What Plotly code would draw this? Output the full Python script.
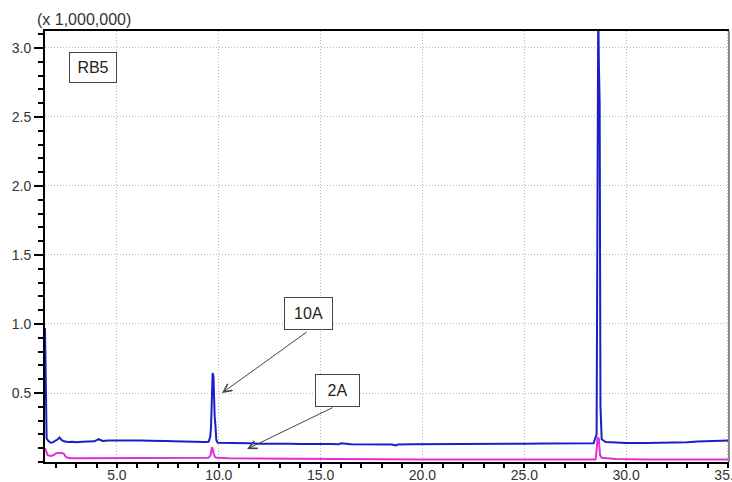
import plotly.graph_objects as go

# ---- data ----
blue_x = [1.47, 1.50, 1.55, 1.62, 1.75, 1.85, 2.0, 2.1, 2.18, 2.28, 2.4, 2.6, 2.8, 3.0, 3.3, 3.6,
          3.9, 4.1, 4.3, 4.6, 5.0, 5.4, 5.8, 6.2, 6.6, 7.0, 7.4, 7.8, 8.2, 8.6, 9.0, 9.3, 9.5,
          9.58, 9.62, 9.66, 9.70, 9.74, 9.77, 9.80, 9.84, 9.88, 9.95, 10.2, 10.6, 11.0, 11.5,
          12.0, 12.5, 13.0, 13.5, 14.0, 14.5, 15.0, 15.5, 15.9, 16.0, 16.5, 17.0, 17.5, 18.0,
          18.5, 18.7, 18.8, 19.5, 20.0, 21.0, 22.0, 23.0, 24.0, 25.0, 26.0, 27.0, 28.0, 28.4,
          28.55, 28.6, 28.63, 28.66, 28.70, 28.74, 28.8, 29.0, 29.5, 30.0, 31.0, 32.0, 33.0,
          33.5, 34.0, 34.5, 35.05]
blue_y = [0.97, 0.55, 0.17, 0.155, 0.14, 0.142, 0.155, 0.165, 0.178, 0.16, 0.15, 0.145, 0.147,
          0.143, 0.146, 0.148, 0.15, 0.165, 0.152, 0.155, 0.156, 0.157, 0.155, 0.156, 0.154,
          0.155, 0.152, 0.15, 0.148, 0.146, 0.144, 0.145, 0.147, 0.18, 0.25, 0.6, 0.645, 0.62,
          0.35, 0.33, 0.26, 0.16, 0.14, 0.14, 0.138, 0.136, 0.135, 0.133, 0.134, 0.132, 0.133,
          0.131, 0.132, 0.129, 0.13, 0.128, 0.136, 0.128, 0.127, 0.128, 0.127, 0.127, 0.12,
          0.127, 0.128, 0.129, 0.129, 0.13, 0.131, 0.132, 0.133, 0.134, 0.135, 0.135, 0.135,
          0.2, 3.3, 3.3, 2.9, 2.6, 0.4, 0.165, 0.145, 0.14, 0.138, 0.138, 0.139, 0.143, 0.148,
          0.152, 0.155, 0.155]

magenta_x = [1.47, 1.52, 1.6, 1.75, 1.9, 2.0, 2.1, 2.3, 2.4, 2.5, 2.7, 3.0, 4.0, 5.0, 6.0, 7.0,
             8.0, 9.0, 9.5, 9.6, 9.66, 9.70, 9.75, 9.82, 9.9, 10.5, 12.0, 14.0, 16.0, 18.0,
             20.0, 22.0, 24.0, 26.0, 28.0, 28.5, 28.56, 28.6, 28.66, 28.72, 28.8, 29.5, 31.0,
             33.0, 35.05]
magenta_y = [0.1, 0.075, 0.05, 0.043, 0.05, 0.062, 0.066, 0.066, 0.06, 0.035, 0.028, 0.027,
             0.027, 0.028, 0.028, 0.027, 0.028, 0.03, 0.031, 0.05, 0.105, 0.1, 0.06, 0.035,
             0.03, 0.027, 0.025, 0.024, 0.021, 0.02, 0.019, 0.019, 0.018, 0.018, 0.018, 0.018,
             0.1, 0.18, 0.17, 0.05, 0.03, 0.022, 0.019, 0.018, 0.019]

x_tick_vals = [5, 10, 15, 20, 25, 30, 35]
x_tick_text = ["5.0", "10.0", "15.0", "20.0", "25.0", "30.0", "35.0"]
y_tick_vals = [0.5, 1.0, 1.5, 2.0, 2.5, 3.0]
y_tick_text = ["0.5", "1.0", "1.5", "2.0", "2.5", "3.0"]

BLUE = "#1a1ec8"
MAGENTA = "#e030d8"

fig = go.Figure()
fig.add_trace(go.Scatter(x=blue_x, y=blue_y, mode="lines",
                         line=dict(color=BLUE, width=2), showlegend=False))
fig.add_trace(go.Scatter(x=magenta_x, y=magenta_y, mode="lines",
                         line=dict(color=MAGENTA, width=2), showlegend=False))

tickfont = dict(family="Liberation Sans, Arial, sans-serif", size=14, color="#333333")
GRID = dict(showgrid=True, gridcolor="#b8b8b8", gridwidth=1, griddash="1px,2px")

fig.update_layout(
    width=732, height=482,
    margin=dict(l=45, r=3, t=31, b=20, autoexpand=False),
    plot_bgcolor="white", paper_bgcolor="white",
    xaxis=dict(range=[1.47, 35.05], tickmode="array", tickvals=x_tick_vals,
               ticktext=x_tick_text, ticks="outside", ticklen=4, tickwidth=1.5,
               tickcolor="black", showline=True, linecolor="black", linewidth=2,
               mirror=True, zeroline=False, tickfont=tickfont, automargin=False,
               ticklabeloverflow="allow", ticklabelstandoff=-5, **GRID,
               minor=dict(tickmode="linear", tick0=0, dtick=1, ticks="outside",
                          ticklen=4, tickwidth=1.5, tickcolor="black", showgrid=False)),
    yaxis=dict(range=[0.0, 3.123], tickmode="array", tickvals=y_tick_vals,
               ticktext=y_tick_text, ticks="outside", ticklen=9, tickwidth=1.5,
               tickcolor="black", showline=True, linecolor="black", linewidth=2,
               zeroline=False, tickfont=tickfont, automargin=False, **GRID,
               minor=dict(tickmode="linear", tick0=0, dtick=0.1, ticks="outside",
                          ticklen=5, tickwidth=1.5, tickcolor="black", showgrid=False)),
    shapes=[dict(type="line", xref="paper", yref="paper", x0=1, x1=1, y0=0, y1=1,
                 line=dict(color="#888888", width=2))],
)

annfont = dict(family="Liberation Sans, Arial, sans-serif", size=16, color="#222222")
box = dict(bordercolor="#444444", borderwidth=1, bgcolor="white", showarrow=False,
           font=annfont, xref="x", yref="y")

fig.add_annotation(x=3.83, y=2.859, text="RB5", width=44, height=27, borderpad=1, **box)
fig.add_annotation(x=14.41, y=1.076, text="10A", width=45, height=29, borderpad=1, **box)
fig.add_annotation(x=15.83, y=0.518, text="2A", width=41, height=29, borderpad=1, **box)

arrow = dict(text="", showarrow=True, arrowhead=5, arrowsize=1.6, arrowwidth=1,
             arrowcolor="#444444", xref="x", yref="y", axref="x", ayref="y")
fig.add_annotation(x=10.16, y=0.50, ax=14.39, ay=0.949, **arrow)
fig.add_annotation(x=11.39, y=0.094, ax=15.66, ay=0.399, **arrow)

fig.add_annotation(xref="paper", yref="paper", x=0, y=1, xshift=-10, yshift=1,
                   xanchor="left", yanchor="bottom", showarrow=False,
                   text="(x 1,000,000)",
                   font=dict(family="Liberation Sans, Arial, sans-serif", size=16,
                             color="#333333"))

fig.write_html("out.html", config={"displayModeBar": False},
               post_script="document.body.style.margin='0';document.body.style.padding='0';")
